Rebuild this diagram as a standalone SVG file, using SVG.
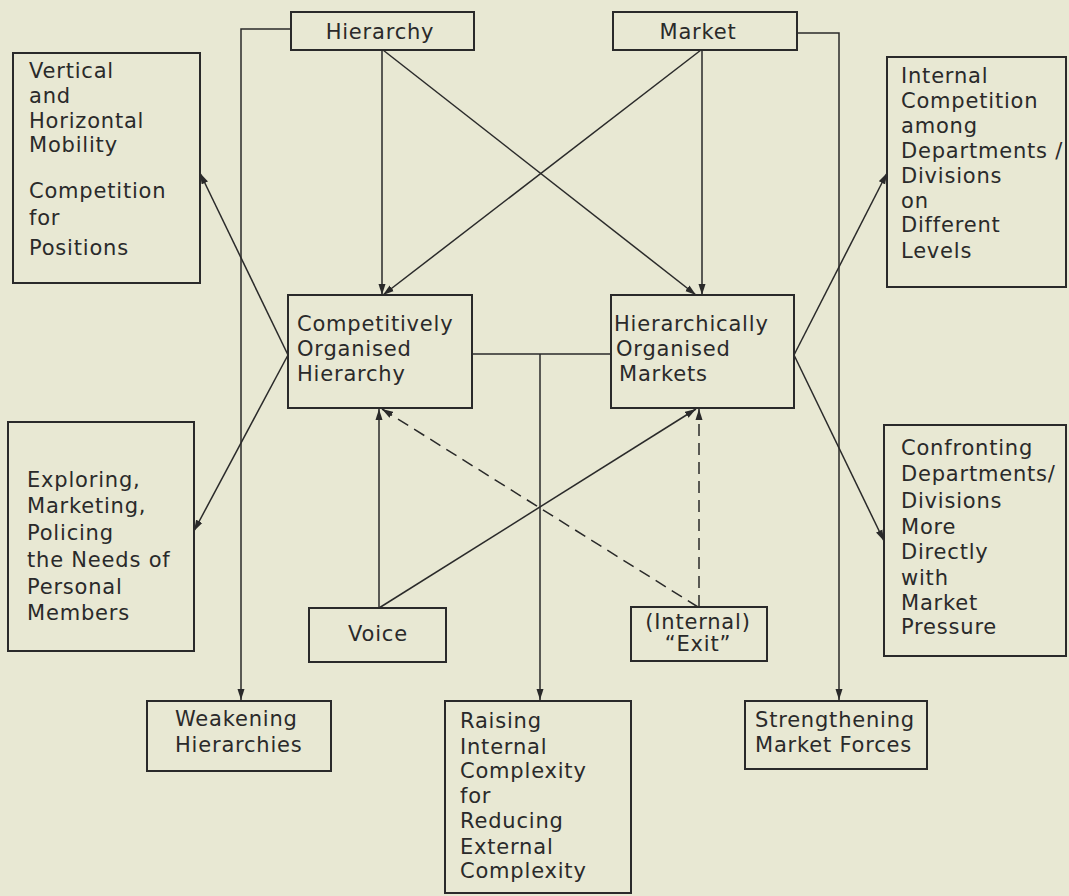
<svg xmlns="http://www.w3.org/2000/svg" width="1069" height="896" viewBox="0 0 1069 896">
  <defs>
    <marker id="arrow" markerUnits="userSpaceOnUse" markerWidth="12" markerHeight="8" refX="11" refY="4" orient="auto">
      <path d="M0,0.5 L11,4 L0,7.5 z" fill="#2a2a2a"/>
    </marker>
    <style>
      .box { fill: none; stroke: #2a2a2a; stroke-width: 2; }
      .lbl { font-family: "DejaVu Sans", "Liberation Sans", sans-serif; font-size: 21px; letter-spacing: 0.8px; fill: #2a2a2a; }
      .mid { text-anchor: middle; }
      .con { fill: none; stroke: #2a2a2a; stroke-width: 1.5; }
      .arr { marker-end: url(#arrow); }
      .dash { stroke-dasharray: 12 7; }
    </style>
  </defs>

  <rect width="1069" height="896" fill="#e8e8d3"/>

  <!-- connectors -->
  <g id="connectors">
    <path class="con arr" d="M291,29 H241 V700"/>
    <path class="con arr" d="M797,33 H839 V700"/>
    <path class="con arr" d="M382,50 V295"/>
    <path class="con arr" d="M383,50 L696,295"/>
    <path class="con arr" d="M702,50 V295"/>
    <path class="con arr" d="M701,50 L383,295"/>
    <path class="con arr" d="M288,355 L200,173"/>
    <path class="con arr" d="M288,355 L194,531"/>
    <path class="con arr" d="M794,355 L887,173"/>
    <path class="con arr" d="M794,355 L884,541"/>
    <path class="con" d="M472,354 H611"/>
    <path class="con arr" d="M540,354 V700"/>
    <path class="con arr" d="M379,608 V409"/>
    <path class="con arr" d="M379,608 L696,409"/>
    <path class="con dash arr" d="M698,607 L382,409"/>
    <path class="con dash arr" d="M699,607 V409"/>
  </g>

  <!-- nodes -->
  <g id="hierarchy">
    <rect class="box" x="291" y="12" width="183" height="38"/>
    <text class="lbl mid" x="380" y="39">Hierarchy</text>
  </g>

  <g id="market">
    <rect class="box" x="613" y="12" width="184" height="38"/>
    <text class="lbl mid" x="698" y="39">Market</text>
  </g>

  <g id="mobility">
    <rect class="box" x="13" y="53" width="187" height="230"/>
    <text class="lbl" x="29" y="78">Vertical</text>
    <text class="lbl" x="29" y="103">and</text>
    <text class="lbl" x="29" y="128">Horizontal</text>
    <text class="lbl" x="29" y="152">Mobility</text>
    <text class="lbl" x="29" y="198">Competition</text>
    <text class="lbl" x="29" y="225">for</text>
    <text class="lbl" x="29" y="255">Positions</text>
  </g>

  <g id="internal-competition">
    <rect class="box" x="887" y="57" width="179" height="230"/>
    <text class="lbl" x="901" y="83">Internal</text>
    <text class="lbl" x="901" y="108">Competition</text>
    <text class="lbl" x="901" y="133">among</text>
    <text class="lbl" x="901" y="158">Departments /</text>
    <text class="lbl" x="901" y="183">Divisions</text>
    <text class="lbl" x="901" y="208">on</text>
    <text class="lbl" x="901" y="232">Different</text>
    <text class="lbl" x="901" y="258">Levels</text>
  </g>

  <g id="competitive-hierarchy">
    <rect class="box" x="288" y="295" width="184" height="113"/>
    <text class="lbl" x="297" y="331">Competitively</text>
    <text class="lbl" x="297" y="356">Organised</text>
    <text class="lbl" x="297" y="381">Hierarchy</text>
  </g>

  <g id="hierarchical-markets">
    <rect class="box" x="611" y="295" width="183" height="113"/>
    <text class="lbl" x="614" y="331">Hierarchically</text>
    <text class="lbl" x="616" y="356">Organised</text>
    <text class="lbl" x="619" y="381">Markets</text>
  </g>

  <g id="exploring">
    <rect class="box" x="8" y="422" width="186" height="229"/>
    <text class="lbl" x="27" y="487">Exploring,</text>
    <text class="lbl" x="27" y="513">Marketing,</text>
    <text class="lbl" x="27" y="540">Policing</text>
    <text class="lbl" x="27" y="567">the Needs of</text>
    <text class="lbl" x="27" y="594">Personal</text>
    <text class="lbl" x="27" y="620">Members</text>
  </g>

  <g id="confronting">
    <rect class="box" x="884" y="425" width="182" height="231"/>
    <text class="lbl" x="901" y="455">Confronting</text>
    <text class="lbl" x="901" y="481">Departments/</text>
    <text class="lbl" x="901" y="508">Divisions</text>
    <text class="lbl" x="901" y="534">More</text>
    <text class="lbl" x="901" y="559">Directly</text>
    <text class="lbl" x="901" y="585">with</text>
    <text class="lbl" x="901" y="610">Market</text>
    <text class="lbl" x="901" y="634">Pressure</text>
  </g>

  <g id="voice">
    <rect class="box" x="309" y="608" width="137" height="54"/>
    <text class="lbl mid" x="378" y="641">Voice</text>
  </g>

  <g id="exit">
    <rect class="box" x="631" y="607" width="136" height="54"/>
    <text class="lbl mid" x="698" y="629">(Internal)</text>
    <text class="lbl mid" x="698" y="651">“Exit”</text>
  </g>

  <g id="weakening">
    <rect class="box" x="147" y="701" width="184" height="70"/>
    <text class="lbl" x="175" y="726">Weakening</text>
    <text class="lbl" x="175" y="752">Hierarchies</text>
  </g>

  <g id="raising">
    <rect class="box" x="445" y="701" width="186" height="192"/>
    <text class="lbl" x="460" y="728">Raising</text>
    <text class="lbl" x="460" y="754">Internal</text>
    <text class="lbl" x="460" y="778">Complexity</text>
    <text class="lbl" x="460" y="803">for</text>
    <text class="lbl" x="460" y="828">Reducing</text>
    <text class="lbl" x="460" y="854">External</text>
    <text class="lbl" x="460" y="878">Complexity</text>
  </g>

  <g id="strengthening">
    <rect class="box" x="745" y="701" width="182" height="68"/>
    <text class="lbl" x="755" y="727">Strengthening</text>
    <text class="lbl" x="755" y="752">Market Forces</text>
  </g>
</svg>
